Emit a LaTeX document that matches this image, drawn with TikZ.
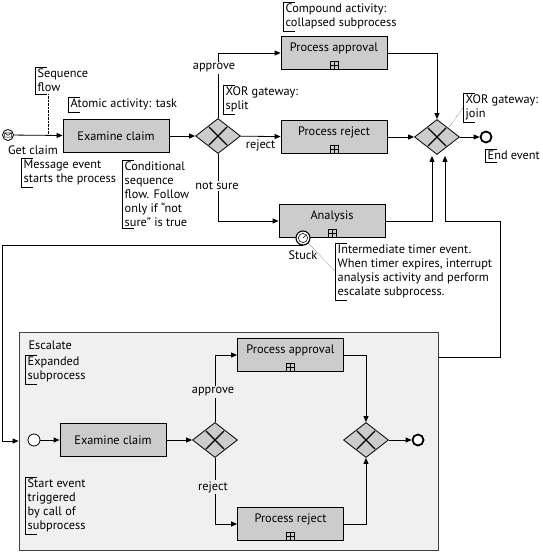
\documentclass[tikz,border=0pt]{standalone}
\usepackage{fontspec}
\setmainfont{PT Sans}
\usetikzlibrary{shapes.geometric,arrows.meta,positioning}

\begin{document}
\begin{tikzpicture}[x=1pt,y=-1pt,
    font=\fontsize{12.3}{13.8}\selectfont,
    flow/.style={draw, line width=0.8pt, -{Triangle[length=6pt,width=5pt]}},
    task/.style={draw, line width=0.8pt, fill=gray!40, minimum width=106pt, minimum height=33pt, inner sep=0pt},
    subproc/.style={task, text depth=11pt, path picture={
        \draw[line width=0.6pt] ([xshift=-4pt,yshift=0.5pt]path picture bounding box.south) rectangle ++(8pt,8pt)
          ([yshift=0.5pt]path picture bounding box.south) -- ++(0,8pt)
          ([xshift=-4pt,yshift=4.5pt]path picture bounding box.south) -- ++(8pt,0);}},
    gate/.style={diamond, draw, line width=0.8pt, fill=gray!40, minimum width=45pt, minimum height=35pt, inner sep=0pt, path picture={
        \draw[line width=1.2pt] ([shift={(-9pt,-9pt)}]path picture bounding box.center) -- ++(18pt,18pt)
          ([shift={(-9pt,9pt)}]path picture bounding box.center) -- ++(18pt,-18pt);}},
    event/.style={circle, draw, line width=0.8pt, fill=white, minimum size=12pt, inner sep=0pt},
    endevent/.style={event, line width=1.8pt, minimum size=11pt},
    note/.style={anchor=north west, align=left, inner xsep=2.5pt, inner ysep=2pt},
    lbl/.style={inner sep=1.5pt}
  ]
  \useasboundingbox (0,0) rectangle (543,552);

  % main process
  \node[event, minimum size=11pt, path picture={
      \draw[line width=0.5pt] ([shift={(-3.5pt,-2.2pt)}]path picture bounding box.center) rectangle ++(7pt,4.4pt)
        ([shift={(-3.5pt,2.2pt)}]path picture bounding box.center) -- ++(3.5pt,-2.5pt) -- ++(3.5pt,2.5pt);}] (get) at (8,135) {};
  \node (getlbl) at (33,150) {Get claim};
  \node[task] (exam) at (116,136) {Examine claim};
  \node[gate] (split) at (218,136) {};
  \node[subproc] (appr) at (334,53) {Process approval};
  \node[subproc] (rej) at (334,137) {Process reject};
  \node[subproc] (anal) at (332,221) {Analysis};
  \node[gate] (join) at (437,137) {};
  \node[endevent] (end) at (486,137) {};
  \node[event, minimum size=14pt, line width=1.1pt, path picture={
      \draw[line width=0.5pt] (path picture bounding box.center) circle (4.6pt)
        (path picture bounding box.center) -- ++(2.6pt,2.6pt);}] (stuck) at (303,238) {};
  \node (stucklbl) [below=2pt of stuck] {Stuck};
  %
  \draw[flow] (get) -- (exam);
  \draw[flow] (exam) -- (split);
  \draw[flow] (split) |- (appr);
  \node[lbl, fill=white] (applbl) at (214,68) {approve};
  \draw[flow] (split) -- node[below] (rejlbl) {reject} (rej);
  \draw[flow] (split) |- (anal);
  \node[lbl, fill=white] (notlbl) at (217,186) {not sure};
  \draw[flow] (appr) -| (join);
  \draw[flow] (rej) -- (join);
  \draw[flow] (join) -- (end);
  \draw[flow] (anal) -| ([xshift=-5pt,yshift=-1pt]join.south);

  % escalate subprocess
  \node[draw, line width=0.8pt, draw=black!75, fill=gray!12, minimum width=419pt, minimum height=218pt] (esc) at (228.5,441) {};
  \node[anchor=west] (esclbl) at (25,345) {Escalate};
  \node[event] (s2) at (34,440) {};
  \node[task] (exam2) at (113,440) {Examine claim};
  \node[gate] (split2) at (215,440) {};
  \node[subproc] (appr2) at (290.5,355) {Process approval};
  \node[subproc] (rej2) at (290.5,524) {Process reject};
  \node[gate] (join2) at (366,440) {};
  \node[endevent] (end2) at (418,440) {};
  %
  \draw[flow] (s2) -- (exam2);
  \draw[flow] (exam2) -- (split2);
  \draw[flow] (split2) |- (appr2);
  \node[lbl, fill=gray!12] (applbl2) at (213,392) {approve};
  \draw[flow] (split2) |- (rej2);
  \node[lbl, fill=gray!12] (rejlbl2) at (213,487) {reject};
  \draw[flow] (appr2) -| (join2);
  \draw[flow] (rej2) -| (join2);
  \draw[flow] (join2) -- (end2);

  % timer and escalation loop
  \draw[flow] (stuck.south) -| (2,441) -- (esc.west);
  \draw[flow] (esc.east |- 0,357) -- (500,357) -- (500,221) -| ([xshift=8pt,yshift=-1pt]join.south);

  % annotations
  \node[note] (seqnote) at (35,67) {Sequence\\flow};
  \node[note] (atomnote) at (68,97) {Atomic activity: task};
  \node[note] (msgnote) at (21,158) {Message event\\starts the process};
  \node[note] (condnote) at (122,160) {Conditional\\sequence\\flow. Follow\\only if “not\\sure” is true};
  \node[note] (compnote) at (283,2) {Compound activity:\\collapsed subprocess};
  \node[note] (splitnote) at (223,85) {XOR gateway:\\split};
  \node[note] (joinnote) at (463,93) {XOR gateway:\\join};
  \node[note] (endnote) at (485,149) {End event};
  \node[note] (timernote) at (335,243) {Intermediate timer event.\\When timer expires, interrupt\\analysis activity and perform\\escalate subprocess.};
  \node[note] (expnote) at (25,355) {Expanded\\subprocess};
  \node[note] (startnote) at (25,477) {Start event\\triggered\\by call of\\subprocess};
  \foreach \n in {seqnote,atomnote,msgnote,condnote,compnote,splitnote,joinnote,endnote,timernote,expnote,startnote}
    \draw[line width=0.6pt] ([xshift=12pt]\n.north west) -- (\n.north west) -- (\n.south west) -- ([xshift=12pt]\n.south west);
  \draw[densely dotted] ([xshift=13pt]seqnote.south west) -- ([xshift=13pt]seqnote.south west |- get);
  \draw[densely dotted] (join.north east) -- (joinnote.west);
  \draw[densely dotted] (stuck.south east) -- (timernote.west);
\end{tikzpicture}
\end{document}
